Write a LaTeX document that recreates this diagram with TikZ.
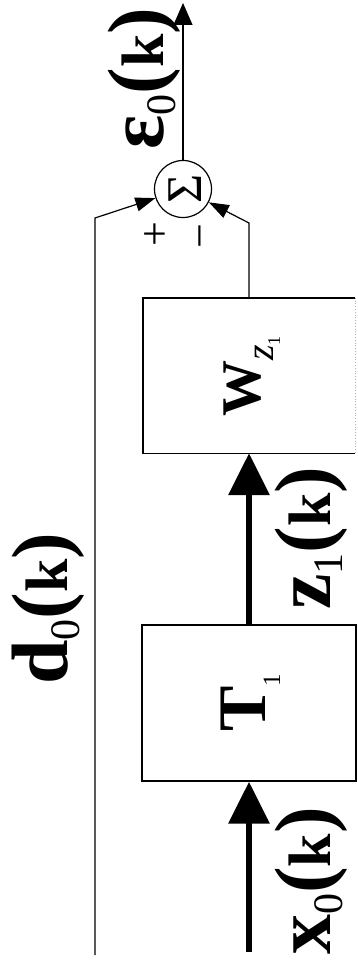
\documentclass[tikz,border=0pt]{standalone}
\usepackage{fontspec}
\setmainfont{Liberation Serif}
\usetikzlibrary{arrows.meta}
\newcommand\fsz[1]{\fontsize{#1}{#1}\selectfont}
\newcommand\siglbl[2]{{\fsz{80}\bfseries #1}\raisebox{-12pt}{\fsz{42}#2}{\fsz{80}\bfseries(}{\fsz{60}\bfseries k}{\fsz{80}\bfseries)}}
\begin{document}
\begin{tikzpicture}[x=1pt,y=-1pt,
  thin line/.style={line width=1.2pt},
  thinarrow/.style={thin line,-{Triangle[length=20pt,width=14pt]}},
  outarrow/.style={thin line,-{Triangle[length=22pt,width=19pt]}},
  thickarrow/.style={line width=6.5pt,-{Triangle[length=42pt,width=40pt]}},
  blockbox/.style={rectangle,inner sep=0pt},
  lbl/.style={rotate=90,anchor=base west,inner sep=0pt},
  sumnode/.style={circle,draw,line width=1.2pt,minimum size=57pt,inner sep=0pt}]
\useasboundingbox (0,0) rectangle (357,966);
% blocks
\node[blockbox,minimum width=212pt,minimum height=155pt] (W) at (249,375.5) {};
\node[blockbox,draw,line width=1.4pt,minimum width=214pt,minimum height=156pt] (T) at (249,703) {};
\draw[line width=1.4pt] (W.north east) -- (W.north west) -- (W.south west) -- (W.south east);
\draw[line width=0.8pt,gray!60,dotted] (W.north east) -- (W.south east);
% block labels
\node[lbl] (Wl) at (260,417) {{\fsz{56}\bfseries W}\raisebox{-13pt}{\fsz{40}\itshape z}\raisebox{-20pt}{\fsz{18}1}};
\node[lbl] (Tl) at (265,732) {{\fsz{68}\bfseries T}\raisebox{-15pt}{\fsz{25}1}};
% summing junction
\node[sumnode] (sum) at (183,189) {};
\node[rotate=90,inner sep=0pt] (sigma) at (185,189) {\fsz{50}Σ};
\node[rotate=90,inner sep=0pt] (plus) at (157,234) {\fsz{44}+};
\node[rotate=90,inner sep=0pt] (minus) at (207,236) {\fsz{44}−};
% coordinates
\coordinate (out) at (183,3);
\coordinate (din) at (95,955);
\coordinate (dcorner) at (95,218);
\coordinate (wcorner) at (249,223);
\coordinate (xin) at (249,952);
% connectors
\draw[thickarrow] (xin) -- (T.south);
\draw[thickarrow] (T.north) -- (W.south);
\draw[thinarrow] (din) -- (dcorner) -- (sum);
\draw[thinarrow] (W.north) -- (wcorner) -- (sum);
\draw[outarrow] (sum.north) -- (out);
% signal labels
\node[lbl] (xl) at (330,955) {\siglbl{x}{0}};
\node[lbl] (zl) at (330,610) {\siglbl{z}{1}};
\node[lbl] (dl) at (67,685) {\siglbl{d}{0}};
\node[lbl] (el) at (163,150) {\siglbl{ε}{0}};
\end{tikzpicture}
\end{document}
